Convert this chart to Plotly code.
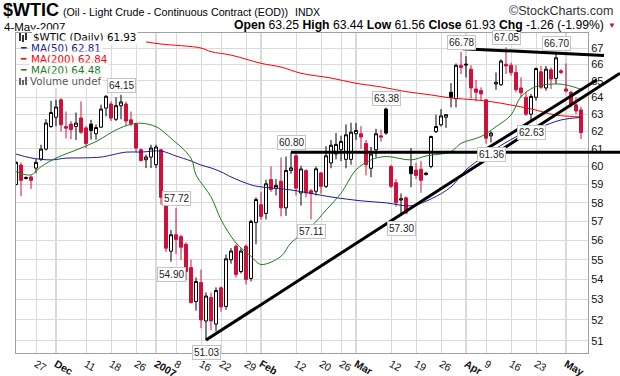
import math
import pandas as pd
import plotly.graph_objects as go

# ---------------- data ----------------
holidays = ["2006-11-23", "2006-12-25", "2007-01-01", "2007-01-15", "2007-02-19", "2007-04-06"]
dates = [d.strftime("%Y-%m-%d") for d in pd.bdate_range("2006-11-20", "2007-05-04")
         if d.strftime("%Y-%m-%d") not in holidays]

opens = [59.00, 60.08, 59.33, 59.42, 59.91, 60.42, 60.98, 62.28, 62.82, 63.85,
         62.28, 62.42, 62.28, 62.78, 62.20, 62.42, 61.86, 62.24, 63.36, 63.60,
         62.70, 63.50, 63.60, 62.67, 62.44, 60.95, 60.38, 60.53, 60.10, 60.94,
         58.45, 55.44, 56.30, 56.20, 55.80, 54.60, 52.90, 53.85, 51.95, 53.10,
         51.80, 53.58, 52.66, 55.00, 55.70, 54.40, 55.70, 54.05, 56.95, 57.90,
         57.43, 59.27, 58.80, 59.18, 57.73, 59.78, 60.60, 58.54, 59.77, 58.66,
         58.63, 59.64, 58.90, 60.20, 60.70, 60.95, 60.40, 60.40, 61.86, 61.86,
         61.30, 59.90, 60.94, 61.74, 63.30, 60.00, 59.10, 58.15, 58.27, 60.00,
         59.80, 59.85, 59.55, 60.00, 61.98, 62.38, 62.82, 64.30, 63.92, 65.94,
         65.95, 65.70, 64.50, 64.40, 63.85, 61.74, 64.80, 64.75, 66.00, 65.94,
         65.50, 64.56, 64.00, 63.00, 64.00, 65.54, 64.56, 65.66, 65.14, 65.60,
         64.50, 64.30, 63.55, 63.25]
highs = [60.30, 60.23, 59.45, 59.50, 60.42, 61.23, 62.71, 63.79, 63.85, 63.95,
         63.16, 62.60, 63.10, 63.75, 62.30, 62.67, 62.40, 63.56, 64.12, 63.75,
         64.00, 64.15, 63.75, 63.16, 62.50, 61.00, 60.67, 61.23, 61.23, 61.00,
         58.60, 56.55, 57.72, 56.30, 55.90, 55.00, 54.10, 54.50, 53.35, 53.35,
         53.60, 53.65, 55.27, 55.60, 55.80, 55.60, 55.80, 57.10, 58.30, 58.60,
         59.27, 60.00, 59.30, 60.50, 60.56, 60.80, 60.70, 60.04, 59.85, 58.75,
         60.00, 59.70, 61.15, 61.50, 61.90, 61.75, 62.40, 62.50, 62.48, 62.30,
         61.50, 61.10, 62.15, 62.10, 63.38, 60.10, 59.30, 58.50, 58.35, 61.04,
         60.20, 60.30, 59.70, 61.75, 62.97, 63.30, 63.00, 64.85, 66.05, 66.78,
         66.50, 65.94, 65.05, 64.60, 63.90, 62.00, 65.50, 66.30, 67.05, 66.10,
         65.94, 65.20, 64.30, 64.20, 65.80, 65.90, 65.90, 65.80, 66.70, 65.70,
         66.05, 64.40, 64.00, 63.44]
lows = [58.95, 58.36, 59.28, 58.76, 59.63, 60.30, 60.90, 62.20, 62.30, 62.00,
        61.59, 61.55, 61.50, 61.85, 61.04, 61.52, 61.52, 62.20, 62.87, 62.60,
        62.60, 62.70, 62.30, 62.30, 60.80, 60.28, 59.91, 59.91, 59.91, 57.90,
        55.40, 54.90, 55.30, 55.00, 53.95, 52.80, 52.45, 51.60, 51.03, 51.50,
        51.45, 52.40, 52.50, 54.80, 54.10, 54.30, 53.75, 53.90, 55.80, 57.10,
        57.10, 58.60, 58.40, 57.27, 57.30, 59.60, 58.40, 57.85, 58.30, 57.11,
        58.40, 58.50, 58.80, 59.90, 60.40, 60.30, 59.90, 60.10, 61.50, 61.00,
        59.50, 59.40, 60.50, 61.40, 61.80, 58.80, 57.80, 57.30, 57.40, 58.85,
        59.30, 58.55, 59.50, 59.90, 61.90, 62.28, 62.20, 63.40, 63.40, 65.40,
        65.20, 63.92, 63.75, 63.80, 61.30, 61.36, 64.45, 64.70, 65.40, 65.30,
        64.30, 64.00, 62.90, 62.63, 63.80, 64.50, 64.40, 64.50, 64.80, 65.40,
        64.30, 63.40, 63.00, 61.56]
closes = [60.23, 59.23, 59.38, 59.23, 60.23, 60.98, 62.48, 63.10, 63.42, 62.38,
          62.18, 62.10, 62.48, 61.95, 61.30, 62.05, 62.22, 63.30, 64.06, 62.77,
          63.50, 63.72, 62.60, 62.44, 61.04, 60.33, 60.53, 61.04, 61.10, 58.30,
          55.60, 56.30, 56.05, 55.65, 54.40, 52.85, 53.90, 52.00, 53.17, 51.95,
          53.45, 52.63, 55.05, 55.45, 54.25, 55.45, 54.00, 57.00, 58.18, 57.27,
          59.04, 58.72, 58.95, 57.73, 59.78, 59.92, 58.80, 59.86, 58.54, 58.50,
          59.87, 58.90, 60.60, 61.20, 61.25, 61.42, 61.80, 61.95, 62.05, 61.67,
          60.10, 60.70, 61.86, 61.67, 61.90, 58.90, 58.00, 58.22, 57.45, 59.60,
          59.50, 59.23, 59.62, 61.70, 62.28, 62.90, 62.97, 64.00, 65.94, 65.80,
          66.00, 64.56, 64.30, 64.20, 61.60, 61.90, 64.90, 66.20, 65.90, 65.49,
          64.45, 64.27, 63.00, 64.05, 65.74, 64.60, 65.70, 65.10, 66.40, 65.50,
          64.37, 63.60, 63.19, 61.93]

# moving averages (trading-day index, value)
ma200_idx = [26, 29, 37, 39, 43, 49, 53, 57, 63, 68, 73, 78, 83, 87, 92, 95, 99, 103, 108, 113]
ma200_val = [67.39, 67.26, 67.01, 66.78, 66.57, 66.06, 65.83, 65.45, 65.16, 64.84,
             64.62, 64.34, 64.14, 63.96, 63.84, 63.74, 63.54, 63.31, 62.95, 62.84]
ma50_idx = [0, 3, 7, 10, 13, 17, 19, 22, 25, 29, 32, 35, 37, 39, 41, 43, 47, 49, 55,
            63, 69, 74, 79, 83, 87, 90, 94, 100, 105, 109, 113]
ma50_val = [60.70, 60.48, 60.37, 60.47, 60.48, 60.53, 60.64, 60.81, 60.81, 60.87,
            60.59, 60.31, 60.08, 59.92, 59.70, 59.42, 58.98, 58.87, 58.70, 58.32,
            58.11, 58.00, 57.84, 58.21, 58.87, 59.81, 60.64, 61.68, 62.25, 62.66, 62.81]
ma20_idx = [0, 3, 5, 8, 12, 16, 20, 23, 25, 28, 31, 35, 36, 39, 41, 44, 47, 49, 53, 55,
            59, 62, 65, 68, 71, 74, 79, 82, 87, 89, 93, 96, 99, 101, 104, 108, 110, 113]
ma20_val = [59.71, 59.53, 59.99, 60.47, 60.93, 61.41, 62.08, 62.41, 62.47, 62.27,
            61.60, 60.47, 59.53, 58.33, 57.10, 55.87, 55.18, 54.76, 55.18, 55.87,
            56.72, 57.61, 58.52, 59.81, 60.37, 60.56, 60.37, 60.59, 60.84, 61.31,
            61.70, 62.27, 62.95, 64.04, 64.64, 64.80, 64.74, 64.48]

# price callouts: (trading-day index, value, side)
label_idx = [21, 32, 31, 38, 55, 59, 74, 77, 89, 98, 108, 95, 103]
label_val = [64.15, 57.72, 54.90, 51.03, 60.80, 57.11, 63.38, 57.30, 66.78, 67.05, 66.70, 61.36, 62.63]
label_side = ["h", "h", "l", "l", "h", "l", "h", "l", "h", "h", "h", "l", "l"]

# hand-drawn trend lines: (start index, start price, end index, end price)
trend_lines = [
    (89.3, 66.97, 117.6, 66.55),
    (55.0, 60.80, 120.8, 60.80),
    (38.0, 51.03, 120.8, 65.45),
    (93.4, 60.87, 116.2, 65.05),
]

tick_dates = ["2006-11-27", "2006-12-01", "2006-12-11", "2006-12-18", "2006-12-26", "2007-01-02",
              "2007-01-08", "2007-01-16", "2007-01-22", "2007-01-29", "2007-02-01", "2007-02-12",
              "2007-02-20", "2007-02-26", "2007-03-01", "2007-03-12", "2007-03-19", "2007-03-26",
              "2007-04-02", "2007-04-09", "2007-04-16", "2007-04-23", "2007-05-01"]
tick_labels = ["27", "Dec", "11", "18", "26", "2007", "8", "16", "22", "29", "Feb", "12",
               "20", "26", "Mar", "12", "19", "26", "Apr", "9", "16", "23", "May"]
month_labels = ["Dec", "2007", "Feb", "Mar", "Apr", "May"]
y_ticks = list(range(51, 68))

# ---------------- layout geometry ----------------
W, H = 620, 376
ML, MR, MT, MB = 16, 32, 33, 23
PW, PH = W - ML - MR, H - MT - MB
X0, X1 = 0.0, 114.4
Y0, Y1 = math.log10(50.42), math.log10(67.955)

def px(xp, yp):
    return (xp - ML) / PW, 1 - (yp - MT) / PH

def dp(i, p):
    return (i - X0) / (X1 - X0), (math.log10(p) - Y0) / (Y1 - Y0)

RED = "#D0103A"
fig = go.Figure()

# candle groups (StockCharts colouring)
n = len(dates)
groups = {}
for i in range(n):
    hollow = closes[i] >= opens[i]
    black = i == 0 or closes[i] >= closes[i - 1]
    groups.setdefault((hollow, black), []).append(i)

for (hollow, black), ids in groups.items():
    lc = "black" if black else RED
    fc = "white" if hollow else lc
    st = dict(line=dict(color=lc, width=1), fillcolor=fc)
    fig.add_trace(go.Candlestick(
        x=ids, open=[opens[i] for i in ids], high=[highs[i] for i in ids],
        low=[lows[i] for i in ids], close=[closes[i] for i in ids],
        increasing=st, decreasing=st, whiskerwidth=0, showlegend=False,
        hoverinfo="skip"))

fig.add_trace(go.Scatter(x=ma200_idx, y=ma200_val, mode="lines", line=dict(color="#FF0000", width=1, shape="spline"), showlegend=False, hoverinfo="skip"))
fig.add_trace(go.Scatter(x=ma50_idx, y=ma50_val, mode="lines", line=dict(color="#1C1C9C", width=1, shape="spline"), showlegend=False, hoverinfo="skip"))
fig.add_trace(go.Scatter(x=ma20_idx, y=ma20_val, mode="lines", line=dict(color="#1E7E1E", width=1, shape="spline"), showlegend=False, hoverinfo="skip"))

shapes = []
tickvals = [dates.index(d) for d in tick_dates]
for tv, tl in zip(tickvals, tick_labels):
    if tl in month_labels:
        shapes.append(dict(type="line", xref="x", yref="paper", x0=tv, x1=tv, y0=0, y1=1,
                           line=dict(color="#b0b0b0", width=1), layer="below"))
for (i0, p0, i1, p1) in trend_lines:
    a = dp(i0, p0); b = dp(i1, p1)
    shapes.append(dict(type="line", xref="paper", yref="paper", x0=a[0], y0=a[1], x1=b[0], y1=b[1],
                       line=dict(color="black", width=3), layer="above"))

ann = []
for i, v, s in zip(label_idx, label_val, label_side):
    ann.append(dict(x=i, y=math.log10(v), xref="x", yref="y", text=f"{v:.2f}", showarrow=False,
                    yanchor="bottom" if s == "h" else "top", yshift=2 if s == "h" else -5,
                    font=dict(family="Liberation Sans", size=10, color="#222"),
                    bgcolor="white", bordercolor="#c4c4c4", borderwidth=1, borderpad=1))

def txt(x, y, t, size, xanchor="left", color="#000", family="Liberation Sans", bg=None):
    xp, yp = px(x, y)
    d = dict(x=xp, y=yp, xref="paper", yref="paper", text=t, showarrow=False, xanchor=xanchor,
             yanchor="middle", font=dict(family=family, size=size, color=color))
    if bg:
        d["bgcolor"] = bg
    ann.append(d)

# header
txt(1, 10, "<b>$WTIC</b>", 18)
txt(61, 12, "(Oil - Light Crude - Continuous Contract (EOD))", 10.7)
txt(293, 12, "INDX", 10.5)
txt(615, 11, "©StockCharts.com", 12.5, xanchor="right", color="#333")
txt(2, 26.5, "4-May-2007", 11.5)
txt(606, 25, "<b>Open</b> 63.25 <b>High</b> 63.44 <b>Low</b> 61.56 <b>Close</b> 61.93 <b>Chg</b> -1.26 (-1.99%)", 12.2, xanchor="right")
txt(612, 25, "▼", 8, xanchor="center", color=RED)

# in-plot legend
LF = "DejaVu Sans"
FS = 10.3
txt(31, 37, "$WTIC (Daily) 61.93", FS, family=LF, bg="white")
txt(18, 48, "<b>━</b>", 9, family=LF, color="#1C1C9C")
txt(29, 48, "MA(50) 62.81", FS, family=LF, color="#1C1C9C", bg="white")
txt(18, 59, "<b>━</b>", 9, family=LF, color="#FF0000")
txt(29, 59, "MA(200) 62.84", FS, family=LF, color="#FF0000", bg="white")
txt(18, 70, "<b>━</b>", 9, family=LF, color="#1E7E1E")
txt(29, 70, "MA(20) 64.48", FS, family=LF, color="#1E7E1E", bg="white")
txt(28, 81, "Volume undef", FS, family=LF, color="#555", bg="white")
# tiny icons
for (x0, y0, x1, y1, c) in [(19, 33, 21, 41, "#333"), (22, 35, 24, 42, "#333"), (25, 33, 27, 40, "#333"),
                             (19, 78, 21, 85, "#666"), (22, 80, 24, 85, "#666"), (25, 77, 27, 85, "#666")]:
    a = px(x0, y0); b = px(x1, y1)
    shapes.append(dict(type="rect", xref="paper", yref="paper", x0=a[0], y0=a[1], x1=b[0], y1=b[1],
                       fillcolor=c, line=dict(width=0), layer="above"))

ticktext = [f"<b>{t}</b>" if t in month_labels else t for t in tick_labels]

fig.update_layout(
    width=W, height=H, margin=dict(l=ML, r=MR, t=MT, b=MB, pad=0, autoexpand=False),
    paper_bgcolor="white", plot_bgcolor="white", boxgap=0.15,
    shapes=shapes, annotations=ann, showlegend=False,
    xaxis=dict(range=[X0, X1], tickvals=tickvals, ticktext=ticktext, showgrid=True,
               gridcolor="#dadada", gridwidth=1, showline=True, mirror=True, linecolor="#a0a0a0",
               ticks="", tickfont=dict(family="Liberation Sans", size=10.5, color="#111"),
               rangeslider=dict(visible=False), zeroline=False, automargin=False),
    yaxis=dict(type="log", range=[Y0, Y1], side="right", tickvals=y_ticks,
               ticktext=[str(v) for v in y_ticks], showgrid=True, gridcolor="#dadada",
               showline=True, mirror=True, linecolor="#a0a0a0", ticks="", automargin=False,
               tickfont=dict(family="Liberation Sans", size=11, color="#111"), zeroline=False),
)

fig.write_html("out.html", config={"displayModeBar": False},
               post_script="document.body.style.margin='0';document.body.style.overflow='hidden';")
